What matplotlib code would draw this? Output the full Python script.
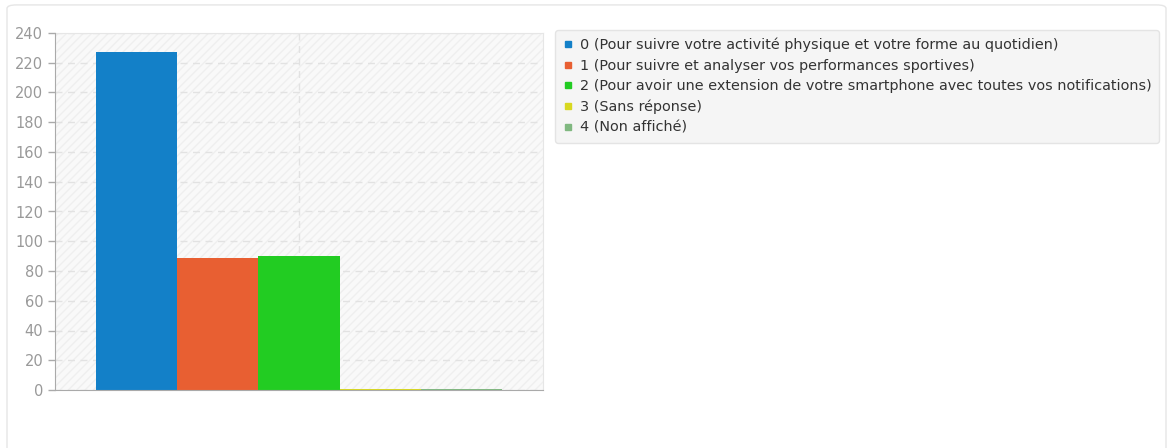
import matplotlib.pyplot as plt
from matplotlib.patches import FancyBboxPatch, Rectangle
from matplotlib.lines import Line2D

# Data
categories = ["0", "1", "2", "3", "4"]
labels = ["0 (Pour suivre votre activité physique et votre forme au quotidien)",
          "1 (Pour suivre et analyser vos performances sportives)",
          "2 (Pour avoir une extension de votre smartphone avec toutes vos notifications)",
          "3 (Sans réponse)",
          "4 (Non affiché)"]
values = [227, 89, 90, 1, 1]
colors = ["#1380c8", "#e85f32", "#22cc22", "#d8d820", "#80b880"]
yticks = list(range(0, 241, 20))

fig = plt.figure(figsize=(11.74, 4.48), dpi=100)

# outer frame
fig.add_artist(FancyBboxPatch((7 / 1174, -0.02), 1159 / 1174, 1.009, boxstyle="round,pad=0,rounding_size=0.008",
                              transform=fig.transFigure, facecolor="white", edgecolor="#e6e6e6", lw=1, zorder=0))

ax = fig.add_axes([55 / 1174, 58 / 448, 488 / 1174, 357 / 448])
ax.set_facecolor("#f9f9f9")
ax.add_patch(Rectangle((0, 0), 1, 1, transform=ax.transAxes, facecolor="none",
                       edgecolor="#efefef", hatch="////", lw=0, zorder=0))

x = list(range(len(categories)))
ax.bar(x, values, width=1.0, color=colors, zorder=3)

ax.set_xlim(-1, 5)
ax.set_ylim(0, 240)
ax.set_yticks(yticks)
ax.set_xticks([2])
ax.set_xticklabels([""])
ax.tick_params(axis="x", length=0)
ax.tick_params(axis="y", colors="#aaaaaa", labelcolor="#999999", labelsize=10.5, length=5, width=1)
ax.grid(True, color="#e2e2e2", linestyle=(0, (5, 4)), lw=1, zorder=1)

for s in ["top", "right"]:
    ax.spines[s].set_color("#e6e6e6")
for s in ["left", "bottom"]:
    ax.spines[s].set_color("#aaaaaa")
    ax.spines[s].set_zorder(4)

# legend
handles = [Line2D([], [], marker="s", linestyle="none", markersize=4, color=c) for c in colors]
leg = fig.legend(handles, labels, loc="upper left", bbox_to_anchor=(555 / 1174, 1 - 30 / 448),
                 fontsize=10.4, frameon=True, handletextpad=0.45, handlelength=0.7, labelspacing=0.45,
                 borderpad=0.55, borderaxespad=0, fancybox=True)
leg.get_frame().set_facecolor("#f5f5f5")
leg.get_frame().set_edgecolor("#e4e4e4")
leg.get_frame().set_alpha(1)
for t in leg.get_texts():
    t.set_color("#333333")

fig.savefig("out.png", dpi=100)
